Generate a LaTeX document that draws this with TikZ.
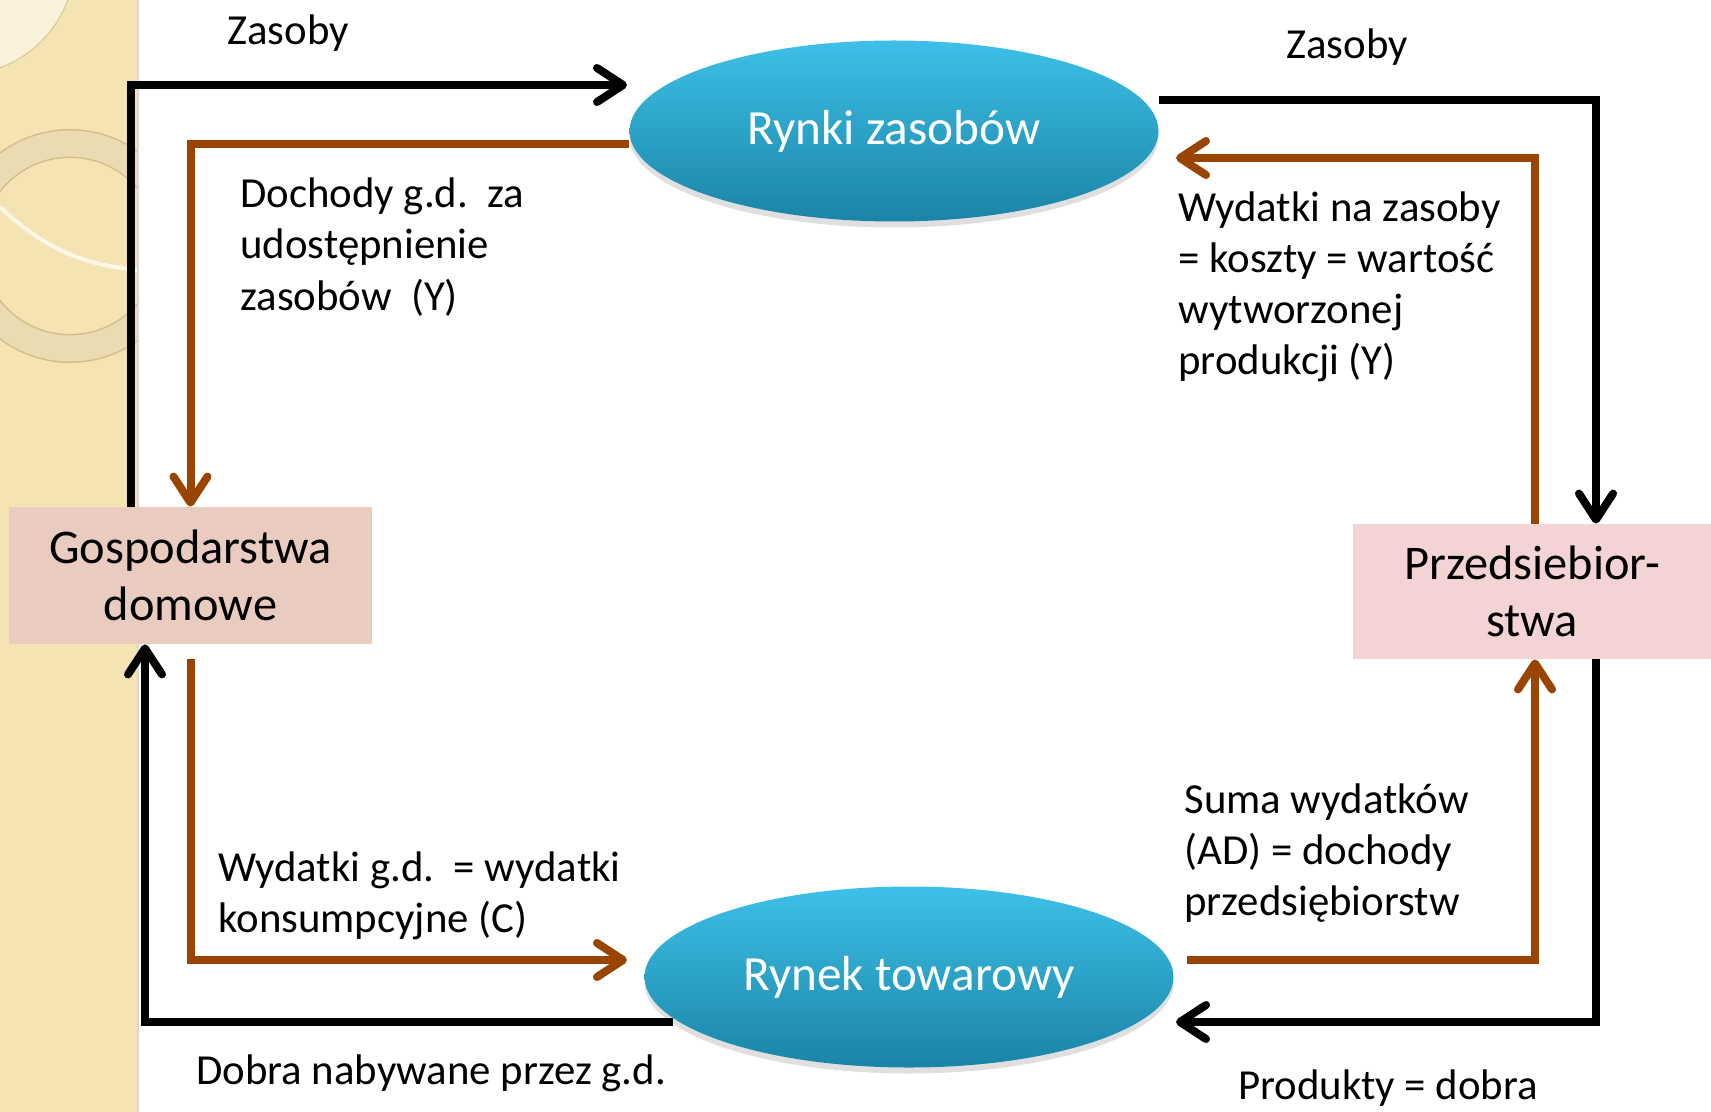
\documentclass[tikz,border=0pt]{standalone}
\usepackage{fontspec}
\setmainfont{Carlito}
\usetikzlibrary{arrows.meta,shapes.geometric,shadows}
\definecolor{flowbrown}{RGB}{153,68,0}
\definecolor{marketlight}{RGB}{62,192,232}
\definecolor{marketdark}{RGB}{26,132,166}
\definecolor{homefill}{RGB}{233,203,192}
\definecolor{firmfill}{RGB}{243,211,211}
\definecolor{stripfill}{RGB}{244,228,180}
\definecolor{ringfill}{RGB}{234,219,178}
\definecolor{ringline}{RGB}{210,190,140}
\begin{document}
\begin{tikzpicture}[x=0.5pt,y=-0.5pt,
  market/.style={ellipse,top color=marketlight,bottom color=marketdark,minimum width=264.5pt,minimum height=90.5pt,text=white,font=\fontsize{24.6}{28}\selectfont,drop shadow={opacity=0.25,shadow xshift=0pt,shadow yshift=-3pt}},
  sector/.style={rectangle,minimum width=181.5pt,minimum height=68.5pt,align=center,font=\fontsize{24.2}{28.5}\selectfont},
  flow/.style={line width=4pt,-{Straight Barb[length=13pt,width=17pt,line cap=round,line join=round]}},
  blackflow/.style={flow,draw=black},
  brownflow/.style={flow,draw=flowbrown},
  flowtext/.style={anchor=west,align=left,inner sep=0pt,font=\fontsize{21.4}{25.6}\selectfont}
  ]
  \useasboundingbox (0,0) rectangle (1711,1112);
  \begin{scope}
    \clip (0,0) rectangle (138,1112);
    \fill[stripfill] (0,0) rectangle (138,1112);
    \fill[stripfill!50!white,draw=ringline] (-40,-40) circle (115);
    \draw[ringline,line width=14.5pt] (70,246) circle (102.5);
    \draw[ringfill,line width=13pt] (70,246) circle (102.5);
    \draw[white!70!stripfill,line width=2pt] (0,207) .. controls (40,245) and (80,265) .. (138,270);
  \end{scope}
  \draw[black!15,line width=1pt] (138,0) -- (138,1112);

  \node[market] (rz) at (894,131) {Rynki zasobów};
  \node[market] (rt) at (909,977) {Rynek towarowy};
  \node[sector,fill=homefill] (gd) at (190.5,575.5) {Gospodarstwa\\domowe};
  \node[sector,fill=firmfill,minimum width=179pt,minimum height=67.5pt] (pb) at (1532,591.5) {Przedsiebior-\\stwa};

  \coordinate (rzin) at (627,85);
  \coordinate (rzback) at (1176,158);
  \coordinate (rtin) at (627,960);
  \coordinate (rtback) at (1176,1022);
  \coordinate (rtout) at (673,1022);
  \coordinate (rtright) at (1187,960);

  \draw[blackflow] ([xshift=-30pt]gd.north) |- (rzin);
  \draw[brownflow] ([yshift=-6.5pt]rz.west) -| (gd.north);
  \draw[blackflow] ([yshift=15.5pt]rz.east) -| ([xshift=32pt]pb.north);
  \draw[brownflow] ([xshift=1.5pt]pb.north) |- (rzback);
  \draw[blackflow] ([xshift=32pt]pb.south) |- (rtback);
  \draw[brownflow] (rtright) -| ([xshift=1.5pt]pb.south);
  \draw[blackflow] (rtout) -| ([xshift=-22.75pt]gd.south);
  \draw[brownflow] ([yshift=-7.5pt]gd.south) |- (rtin);

  \node[flowtext,anchor=center] (tzasoby1) at (288,33) {Zasoby};
  \node[flowtext,anchor=center] (tzasoby2) at (1347,47) {Zasoby};
  \node[flowtext] (tdochody) at (240,247) {Dochody g.d.\ \ za\\udostępnienie\\zasobów\ \ (Y)};
  \node[flowtext] (twydzas) at (1178,287) {Wydatki na zasoby\\= koszty = wartość\\wytworzonej\\produkcji (Y)};
  \node[flowtext] (tsuma) at (1184,853) {Suma wydatków\\(AD) = dochody\\przedsiębiorstw};
  \node[flowtext] (twydgd) at (218,896) {Wydatki g.d.\ \ = wydatki\\konsumpcyjne (C)};
  \node[flowtext] (tdobra) at (196,1073) {Dobra nabywane przez g.d.};
  \node[flowtext] (tprod) at (1238,1088) {Produkty = dobra};
\end{tikzpicture}
\end{document}
